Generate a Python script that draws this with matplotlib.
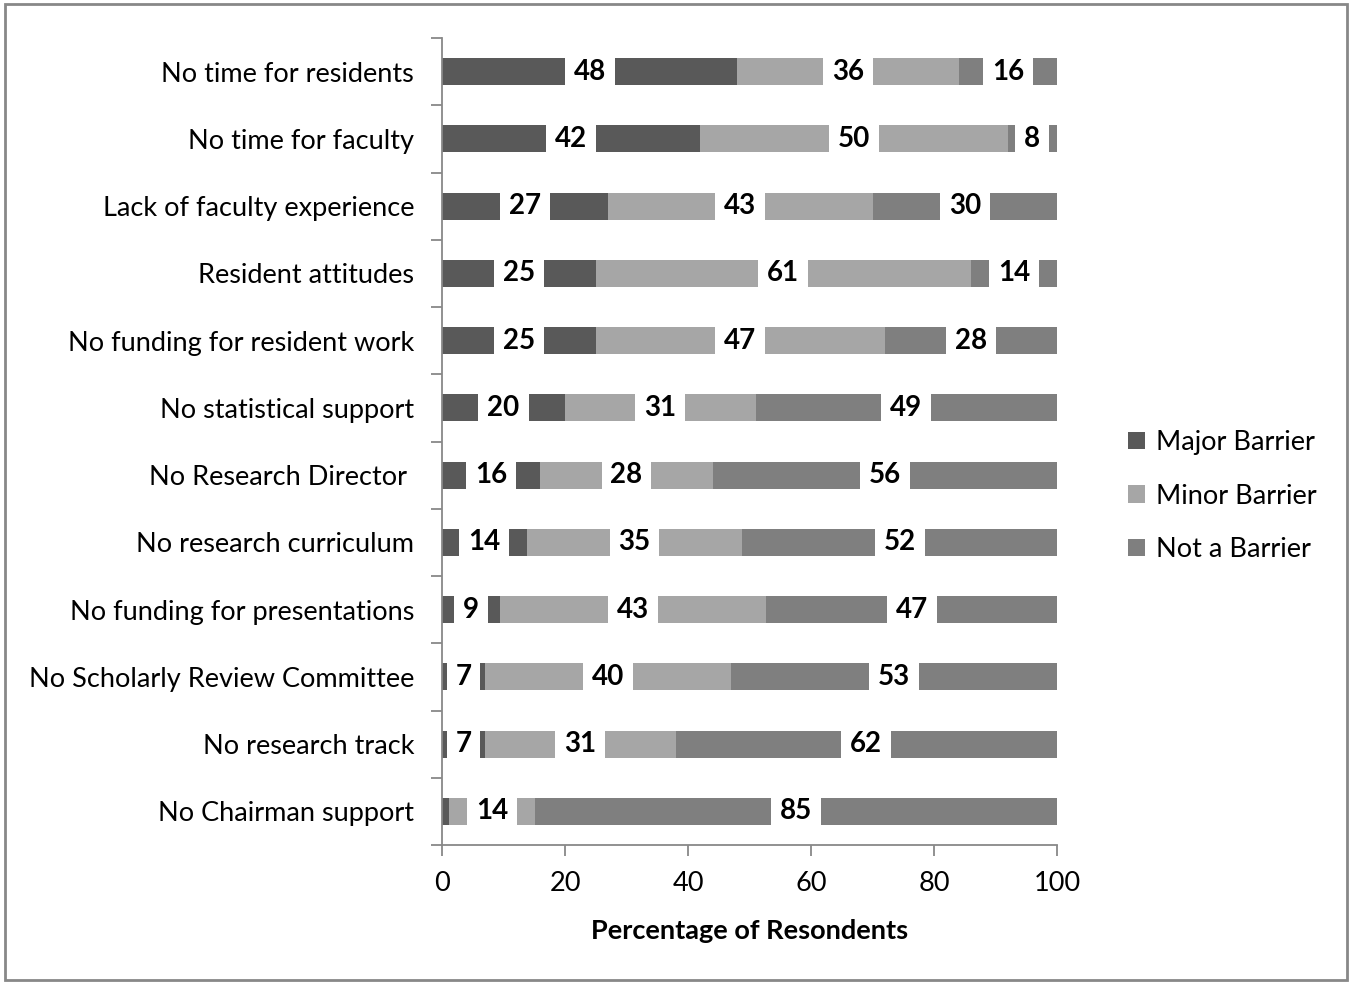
import matplotlib
matplotlib.use("Agg")
import numpy as np
from matplotlib import pyplot as plt
from matplotlib.patches import Rectangle
from matplotlib.ticker import FixedLocator

categories = [
    "No time for residents",
    "No time for faculty",
    "Lack of faculty experience",
    "Resident attitudes",
    "No funding for resident work",
    "No statistical support",
    "No Research Director ",
    "No research curriculum",
    "No funding for presentations",
    "No Scholarly Review Committee",
    "No research track",
    "No Chairman support",
]
# percentages (unrounded estimates so each row sums to ~100)
major = [48, 42, 27, 25, 25, 20, 16, 13.8, 9.4, 7, 7, 1.1]
minor = [36, 50, 43, 61, 47, 31, 28, 35, 43.3, 40, 31, 14]
not_barrier = [16, 8, 30, 14, 28, 49, 56, 51.2, 47.3, 53, 62, 84.9]
major_labels = ["48", "42", "27", "25", "25", "20", "16", "14", "9", "7", "7", ""]
minor_labels = ["36", "50", "43", "61", "47", "31", "28", "35", "43", "40", "31", "14"]
not_labels = ["16", "8", "30", "14", "28", "49", "56", "52", "47", "53", "62", "85"]

series = [
    ("Major Barrier", major, major_labels, "#595959"),
    ("Minor Barrier", minor, minor_labels, "#a6a6a6"),
    ("Not a Barrier", not_barrier, not_labels, "#7f7f7f"),
]

plt.rcParams["font.family"] = ["Lato", "DejaVu Sans"]
FS = 19.5

fig = plt.figure(figsize=(13.55, 9.82), dpi=100)
ax = fig.add_axes([0.3262, 0.1395, 0.7801 - 0.3262, 0.9613 - 0.1395])

y = np.arange(len(categories))
left = np.zeros(len(categories))
for name, vals, labels, color in series:
    vals = np.array(vals, dtype=float)
    ax.barh(y, vals, left=left, height=0.4, color=color, label=name, zorder=2)
    for yi, l, v, lab in zip(y, left, vals, labels):
        if not lab:
            continue
        ax.text(l + v / 2, yi, lab, ha="center", va="center",
                fontsize=20, fontweight="bold", color="black", zorder=3,
                bbox=dict(boxstyle="square,pad=0.32", fc="white", ec="none"))
    left += vals

ax.set_xlim(0, 100)
ax.set_ylim(len(categories) - 0.5, -0.5)
ax.set_xticks(np.arange(0, 101, 20))
ax.set_yticks(y)
ax.set_yticklabels(categories)
ax.yaxis.set_minor_locator(FixedLocator(np.arange(-0.5, len(categories), 1)))
ax.tick_params(axis="y", which="major", length=0, pad=20, labelsize=FS)
ax.tick_params(axis="y", which="minor", length=8, width=1.3, color="#888888")
ax.tick_params(axis="x", length=8, width=1.3, color="#888888", labelsize=FS, pad=11)
for s in ["top", "right"]:
    ax.spines[s].set_visible(False)
for s in ["left", "bottom"]:
    ax.spines[s].set_color("#888888")
    ax.spines[s].set_linewidth(1.3)

ax.set_xlabel("Percentage of Resondents", fontsize=FS, fontweight="bold", labelpad=16)

ax.legend(loc="center left", bbox_to_anchor=(1128 / 1355, 1 - 496 / 982),
          bbox_transform=fig.transFigure, frameon=False, borderpad=0,
          borderaxespad=0, fontsize=FS, handlelength=0.62, handleheight=0.62,
          handletextpad=0.4, labelspacing=1.05)

fig.patches.append(Rectangle((5 / 1355, 2 / 982), 1342 / 1355, 976 / 982,
                             transform=fig.transFigure, fill=False,
                             ec="#888888", lw=2))

fig.savefig("out.png", dpi=100)
